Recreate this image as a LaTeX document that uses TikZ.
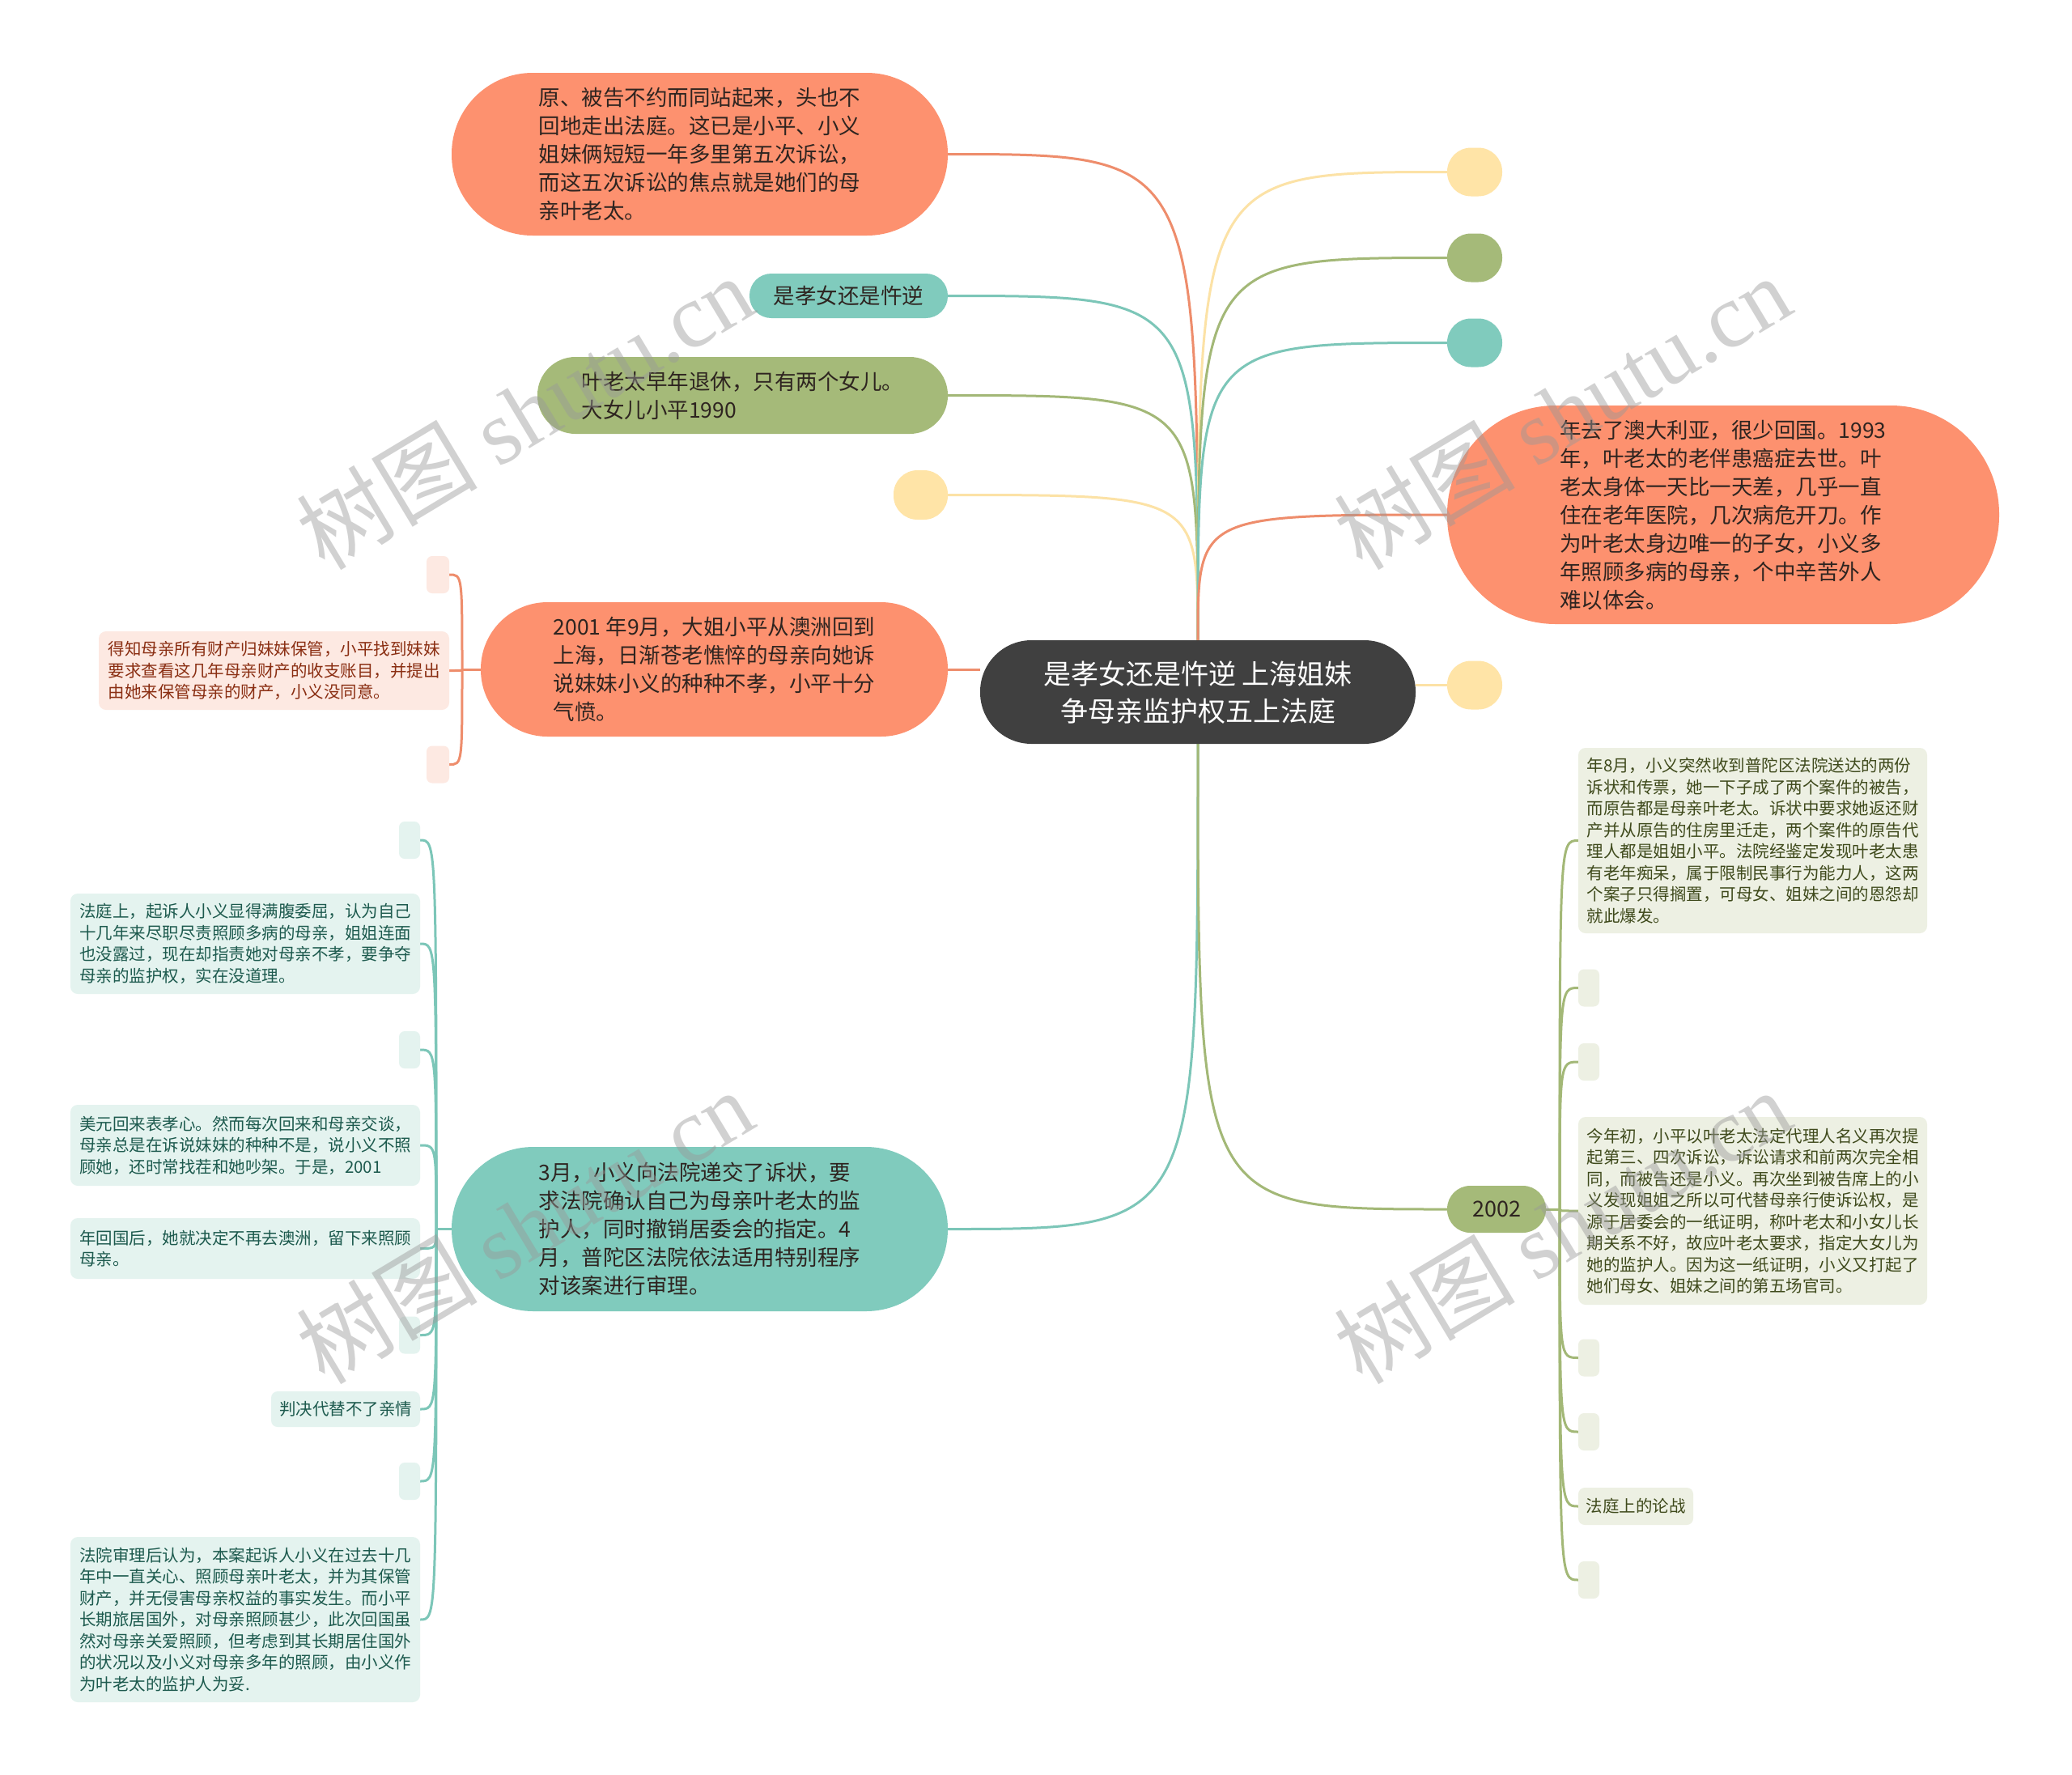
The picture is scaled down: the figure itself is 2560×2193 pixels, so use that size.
\documentclass[tikz,border=0pt]{standalone}
\usepackage{fontspec}
\setmainfont{Noto Sans CJK SC}
\newfontfamily\wmlatin{Liberation Serif}
\newfontfamily\wmcjk{Noto Sans CJK SC}
\usetikzlibrary{backgrounds}
\definecolor{orangeF}{HTML}{FD916F}
\definecolor{tealF}{HTML}{80CBBD}
\definecolor{greenF}{HTML}{A5BA79}
\definecolor{yellowF}{HTML}{FFE4A7}
\definecolor{rootF}{HTML}{404040}
\definecolor{paleO}{HTML}{FDE9E2}
\definecolor{paleT}{HTML}{E4F3EF}
\definecolor{paleG}{HTML}{EDF0E3}
\definecolor{leafO}{HTML}{8A2E12}
\definecolor{leafT}{HTML}{1D5A4E}
\definecolor{leafG}{HTML}{3F4A1C}
\definecolor{bigtext}{HTML}{2E2420}
\definecolor{oLine}{HTML}{EE8D6C}
\definecolor{tLine}{HTML}{7CC6B8}
\definecolor{gLine}{HTML}{A3B877}
\definecolor{yLine}{HTML}{FCE2A6}
\begin{document}
\begin{tikzpicture}[x=1pt,y=-1pt,
 bigtxt/.style={inner sep=0pt, align=left, text=bigtext, font=\fontsize{26.5}{35}\selectfont},
 onode/.style={bigtxt, fill=orangeF},
 tnode/.style={bigtxt, fill=tealF},
 gnode/.style={bigtxt, fill=greenF},
 dot/.style={inner sep=0pt, minimum width=68pt, minimum height=60pt, rounded corners=29.5pt},
 smalltxt/.style={inner sep=0pt, align=left, font=\fontsize{20.5}{26.5}\selectfont, rounded corners=9pt},
 oleaf/.style={smalltxt, fill=paleO, text=leafO},
 tleaf/.style={smalltxt, fill=paleT, text=leafT},
 gleaf/.style={smalltxt, fill=paleG, text=leafG},
 stub/.style={inner sep=0pt, minimum width=26pt, minimum height=46pt, rounded corners=7pt},
 conn/.style={line width=3pt},
 wmark/.style={rotate=31, text=black!40, opacity=0.45, font=\fontsize{112}{116}\selectfont}
]
\useasboundingbox (0,0) rectangle (2560,2193);

% root
\node[fill=rootF, text=white, inner sep=0pt, align=center, minimum width=538pt, minimum height=128pt, rounded corners=63.5pt, font=\fontsize{34}{46}\selectfont] (root) at (1480,855) {是孝女还是忤逆 上海姐妹\\争母亲监护权五上法庭};

% left upper nodes
\node[onode, minimum width=613pt, minimum height=201pt, rounded corners=100pt] (o1) at (864.5,190.5) {原、被告不约而同站起来，头也不\\回地走出法庭。这已是小平、小义\\姐妹俩短短一年多里第五次诉讼，\\而这五次诉讼的焦点就是她们的母\\亲叶老太。};
\node[tnode, minimum width=245pt, minimum height=55pt, rounded corners=27pt] (t1) at (1048.5,365.5) {是孝女还是忤逆};
\node[gnode, minimum width=507pt, minimum height=95pt, rounded corners=47pt] (g1) at (917.5,488.5) {叶老太早年退休，只有两个女儿。\\大女儿小平1990};
\node[dot, fill=yellowF, minimum width=67pt, minimum height=61pt] (yL) at (1137.5,611.5) {};

% 2001 node and children
\node[onode, minimum width=577pt, minimum height=166pt, rounded corners=82.5pt] (o2001) at (882.5,827) {2001 年9月，大姐小平从澳洲回到\\上海，日渐苍老憔悴的母亲向她诉\\说妹妹小义的种种不孝，小平十分\\气愤。};
\node[stub, fill=paleO, minimum width=28pt] (oa) at (541,710) {};
\node[oleaf, minimum width=433pt, minimum height=97pt] (ob) at (338.5,828.5) {得知母亲所有财产归妹妹保管，小平找到妹妹\\要求查看这几年母亲财产的收支账目，并提出\\由她来保管母亲的财产，小义没同意。};
\node[stub, fill=paleO, minimum width=28pt] (oc) at (541,944.5) {};
\coordinate (j2001) at (571,827);

% 3月 node and children
\node[tnode, minimum width=613pt, minimum height=203pt, rounded corners=101pt] (t3) at (864.5,1518.5) {3月，小义向法院递交了诉状，要\\求法院确认自己为母亲叶老太的监\\护人，同时撤销居委会的指定。4\\月，普陀区法院依法适用特别程序\\对该案进行审理。};
\node[stub, fill=paleT] (ta) at (506,1038) {};
\node[tleaf, minimum width=432pt, minimum height=124pt] (tb) at (303,1166) {法庭上，起诉人小义显得满腹委屈，认为自己\\十几年来尽职尽责照顾多病的母亲，姐姐连面\\也没露过，现在却指责她对母亲不孝，要争夺\\母亲的监护权，实在没道理。};
\node[stub, fill=paleT] (tc) at (506,1297) {};
\node[tleaf, minimum width=432pt, minimum height=100pt] (td) at (303,1415) {美元回来表孝心。然而每次回来和母亲交谈，\\母亲总是在诉说妹妹的种种不是，说小义不照\\顾她，还时常找茬和她吵架。于是，2001};
\node[tleaf, minimum width=432pt, minimum height=75pt] (te) at (303,1542.5) {年回国后，她就决定不再去澳洲，留下来照顾\\母亲。};
\node[stub, fill=paleT] (tf) at (506,1649.5) {};
\node[tleaf, minimum width=184pt, minimum height=44pt, rounded corners=8pt] (tg) at (427,1741) {判决代替不了亲情};
\node[stub, fill=paleT] (th) at (506,1830) {};
\node[tleaf, minimum width=432pt, minimum height=204pt] (ti) at (303,2001) {法院审理后认为，本案起诉人小义在过去十几\\年中一直关心、照顾母亲叶老太，并为其保管\\财产，并无侵害母亲权益的事实发生。而小平\\长期旅居国外，对母亲照顾甚少，此次回国虽\\然对母亲关爱照顾，但考虑到其长期居住国外\\的状况以及小义对母亲多年的照顾，由小义作\\为叶老太的监护人为妥.};
\coordinate (j3) at (539,1518.5);

% right upper nodes
\node[dot, fill=yellowF] (yR1) at (1822,212.5) {};
\node[dot, fill=greenF] (gR) at (1822,318.5) {};
\node[dot, fill=tealF] (tR) at (1822,423.5) {};
\node[onode, minimum width=682pt, minimum height=270pt, rounded corners=134pt] (oR) at (2129,636) {年去了澳大利亚，很少回国。1993\\年，叶老太的老伴患癌症去世。叶\\老太身体一天比一天差，几乎一直\\住在老年医院，几次病危开刀。作\\为叶老太身边唯一的子女，小义多\\年照顾多病的母亲，个中辛苦外人\\难以体会。};
\node[dot, fill=yellowF] (yR2) at (1822,846.5) {};

% 2002 node and children
\node[gnode, minimum width=122pt, minimum height=58pt, rounded corners=28.5pt, font=\fontsize{27}{32}\selectfont] (g2002) at (1849,1494) {2002};
\node[gleaf, minimum width=431pt, minimum height=229pt] (ga) at (2165.5,1038.5) {年8月，小义突然收到普陀区法院送达的两份\\诉状和传票，她一下子成了两个案件的被告，\\而原告都是母亲叶老太。诉状中要求她返还财\\产并从原告的住房里迁走，两个案件的原告代\\理人都是姐姐小平。法院经鉴定发现叶老太患\\有老年痴呆，属于限制民事行为能力人，这两\\个案子只得搁置，可母女、姐妹之间的恩怨却\\就此爆发。};
\node[stub, fill=paleG] (gb) at (1963,1220.5) {};
\node[stub, fill=paleG] (gc) at (1963,1312) {};
\node[gleaf, minimum width=431pt, minimum height=232pt] (gd) at (2165.5,1496) {今年初，小平以叶老太法定代理人名义再次提\\起第三、四次诉讼，诉讼请求和前两次完全相\\同，而被告还是小义。再次坐到被告席上的小\\义发现姐姐之所以可代替母亲行使诉讼权，是\\源于居委会的一纸证明，称叶老太和小女儿长\\期关系不好，故应叶老太要求，指定大女儿为\\她的监护人。因为这一纸证明，小义又打起了\\她们母女、姐妹之间的第五场官司。};
\node[stub, fill=paleG] (ge) at (1963,1677.5) {};
\node[stub, fill=paleG] (gf) at (1963,1769) {};
\node[gleaf, minimum width=142pt, minimum height=46pt, rounded corners=8pt] (gg) at (2021,1861) {法庭上的论战};
\node[stub, fill=paleG] (gh) at (1963,1952) {};
\coordinate (j2002) at (1927,1494);

% connectors
\begin{scope}[on background layer]
\fill[white] (0,0) rectangle (2560,2193);
\draw[conn, oLine] (o1.east) .. controls (o1.east -| root.north) .. (root.north);
\draw[conn, tLine] (t1.east) .. controls (t1.east -| root.north) .. (root.north);
\draw[conn, gLine] (g1.east) .. controls (g1.east -| root.north) .. (root.north);
\draw[conn, yLine] (yL.east) .. controls (yL.east -| root.north) .. (root.north);
\draw[conn, yLine] (root.north) .. controls (root.north |- yR1.west) .. (yR1.west);
\draw[conn, gLine] (root.north) .. controls (root.north |- gR.west) .. (gR.west);
\draw[conn, tLine] (root.north) .. controls (root.north |- tR.west) .. (tR.west);
\draw[conn, oLine] (root.north) .. controls (root.north |- oR.west) .. (oR.west);
\draw[conn, oLine] (o2001.east) -- (o2001.east -| root.west);
\draw[conn, yLine] (root.east |- yR2.west) -- (yR2.west);
\draw[conn, tLine] (t3.east) .. controls (t3.east -| root.south) .. (root.south);
\draw[conn, gLine] (root.south) .. controls (root.south |- g2002.west) .. (g2002.west);
% 2001 children
\draw[conn, oLine] (o2001.west) -- (j2001);
\foreach \c in {oa,ob,oc}
  \draw[conn, oLine] (j2001) .. controls (j2001 |- \c.east) .. (\c.east);
% 3月 children
\draw[conn, tLine] (t3.west) -- (j3);
\foreach \c in {ta,tb,tc,td,te,tf,tg,th,ti}
  \draw[conn, tLine] (j3) .. controls (j3 |- \c.east) .. (\c.east);
% 2002 children
\draw[conn, gLine] (g2002.east) -- (j2002);
\foreach \c in {ga,gb,gc,gd,ge,gf,gg,gh}
  \draw[conn, gLine] (j2002) .. controls (j2002 |- \c.west) .. (\c.west);
\end{scope}

% watermarks
\node[wmark] (w1) at (648,509) {\wmcjk 树图 {\wmlatin shutu.cn}};
\node[wmark] (w2) at (1930,509) {\wmcjk 树图 {\wmlatin shutu.cn}};
\node[wmark] (w3) at (648,1515) {\wmcjk 树图 {\wmlatin shutu.cn}};
\node[wmark] (w4) at (1930,1515) {\wmcjk 树图 {\wmlatin shutu.cn}};
\end{tikzpicture}
\end{document}
